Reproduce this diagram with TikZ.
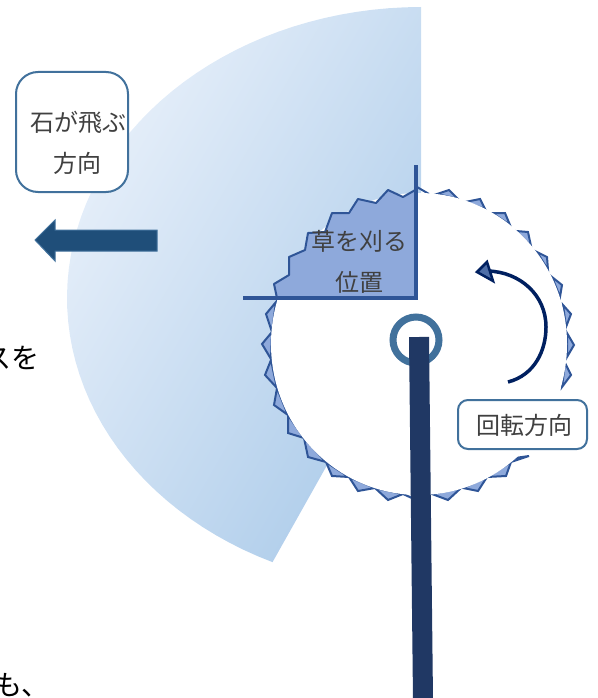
\documentclass[tikz,border=0pt]{standalone}
\usepackage{fontspec}
\setmainfont{Noto Sans CJK JP}
\definecolor{fanlight}{HTML}{E8F0FA}
\definecolor{fandark}{HTML}{ADCCEA}
\definecolor{bladefill}{HTML}{8EA9DB}
\definecolor{bladeedge}{HTML}{2F5597}
\definecolor{boxedge}{HTML}{41719C}
\definecolor{handlecol}{HTML}{203864}
\definecolor{arrowcol}{HTML}{1F4E79}
\definecolor{turncol}{HTML}{002060}
\definecolor{inktext}{HTML}{404040}
\tikzset{
  jptext/.style={inner sep=0pt, align=center, text=inktext, font=\fontsize{24}{41}\selectfont},
  bodytext/.style={inner sep=0pt, text=black, font=\fontsize{28}{34}\selectfont},
  labelbox/.style={draw=boxedge, line width=2pt, fill=white},
  tooth/.style={fill=bladefill, draw=bladeedge, line width=2pt, line join=miter}
}
\begin{document}
\begin{tikzpicture}[x=1pt, y=-1pt]
   \useasboundingbox (0,0) rectangle (597,698);

   % thrown stones fan
   \shade[top color=fanlight, bottom color=fandark, shading angle=60]
    (421,298) -- plot[domain=90:245.2, samples=60] ({421+354*cos(\x)},{298-291*sin(\x)}) -- cycle;

   % blade teeth
   \foreach \pa/\pb/\pc in {
     {417,187}/{417,187}/{429,194}, {437,194}/{449,190}/{458,199},
     {465,202}/{480,199}/{485,209}, {492,213}/{505,213}/{510,225},
     {516,231}/{528,232}/{531,246}, {537,252}/{547,257}/{548,270},
     {552,277}/{562,285}/{560,297}, {563,305}/{571,314}/{566,327},
     {567,333}/{574,345}/{567,357}, {565,363}/{571,375}/{562,387},
     {515,458}/{529,456}/{511,462}, {487,477}/{506,476}/{511,462},
     {463,488}/{478,491}/{487,477}, {432,494}/{448,500}/{461,488},
     {403,494}/{410,497}/{414,499}, {375,488}/{388,500}/{403,494},
     {349,477}/{358,491}/{375,488}, {326,462}/{332,476}/{349,477},
     {304,438}/{308,457}/{326,462}, {288,415}/{288,433}/{304,438},
     {277,388}/{274,405}/{288,415}, {271,360}/{265,375}/{277,388},
     {272,332}/{262,344}/{271,359}, {276,302}/{266,314}/{272,332}}
     \draw[tooth] (\pa) -- (\pb) -- (\pc) -- cycle;
   \fill[white] (419,344) ellipse (148 and 151);

   % cutting zone
   \filldraw[tooth, line join=round] (416,298) -- (417,189) -- (403,197) -- (388,190) -- (376,203)
     -- (358,199) -- (349,213) -- (332,213) -- (325,232) -- (308,233) -- (305,250)
     -- (289,257) -- (289,275) -- (274,284) -- (277,298) -- cycle;
   \coordinate (zonetop) at (416,165);
   \coordinate (zonecorner) at (416,298);
   \coordinate (zoneleft) at (243,298);
   \draw[bladeedge, line width=3.5pt, line join=miter] (zonetop) -- (zonecorner) -- (zoneleft);
   \node[jptext] (zonelabel) at (359,262) {草を刈る\\位置};

   % hub and handle
   \node[circle, draw=boxedge, line width=7pt, minimum size=46pt, inner sep=0pt] (hub) at (416,340) {};
   \coordinate (handletop) at (419,337);
   \coordinate (handleend) at (423,700);
   \draw[handlecol, line width=20pt] (handletop) -- (handleend);

   % rotation
   \coordinate (turnstart) at (508,382);
   \coordinate (turnend) at (488,271);
   \draw[turncol, line width=3.5pt] (turnstart) .. controls (535,375) and (546,350) .. (546,327)
     .. controls (546,295) and (520,272) .. (turnend);
   \filldraw[fill=bladeedge!85!white, draw=turncol, line width=2.5pt, line join=miter]
     (477,272) -- (487,262) -- (493,281) -- cycle;
   \node[labelbox, rounded corners=10pt, minimum width=129pt, minimum height=49pt] (turnbox) at (522.5,424.5) {};
   \node[jptext] (turnlabel) at (524,425) {回転方向};

   % stones direction
   \node[labelbox, rounded corners=22pt, minimum width=112pt, minimum height=120pt] (stonebox) at (72,132) {};
   \node[jptext] (stonelabel) at (78,143) {石が飛ぶ\\方向};
   \filldraw[fill=arrowcol, draw=boxedge, line width=1pt, line join=miter]
     (35,240) -- (55,220) -- (55,230) -- (157,230) -- (157,251) -- (55,251) -- (55,261) -- cycle;

   % cut-off body text
   \node[bodytext, anchor=east] (textone) at (40,358) {スを};
   \node[bodytext] (texttwo) at (22,685) {も、};
\end{tikzpicture}
\end{document}
